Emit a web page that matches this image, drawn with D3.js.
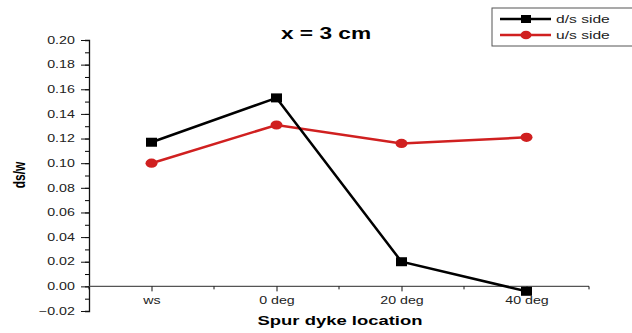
<!DOCTYPE html>
<html>
<head>
<meta charset="utf-8">
<script src="https://cdn.jsdelivr.net/npm/d3@7"></script>
<style>
  body { margin: 0; background: #fff; }
  svg { display: block; font-family: "Liberation Sans", Arial, sans-serif; }
</style>
</head>
<body>
<div class="chart"></div>
<script>
// data
const categories = ["ws", "0 deg", "20 deg", "40 deg"];
const dsSide = [0.117, 0.153, 0.020, -0.004];
const usSide = [0.100, 0.131, 0.116, 0.121];
const yTicks = [-0.02, 0, 0.02, 0.04, 0.06, 0.08, 0.10, 0.12, 0.14, 0.16, 0.18, 0.20];

const width = 632;
const height = 333;
const margin = { top: 40, bottom: 22, left: 89, right: 43 };
const sx = 1.42; // the original picture is stretched sideways

const svg = d3.select('.chart')
  .append('svg')
  .attr('width', width)
  .attr('height', height);

const x = d3.scalePoint()
  .domain(categories)
  .range([margin.left, width - margin.right])
  .padding(0.5);

const y = d3.scaleLinear()
  .domain([-0.02, 0.20])
  .range([height - margin.bottom, margin.top]);

// y axis with minor ticks
const yMinor = d3.range(-0.02, 0.2001, 0.01);
svg.append("g")
  .attr("transform", `translate(${margin.left},0)`)
  .call(d3.axisLeft(y).tickValues(yMinor).tickSize(4).tickFormat(""))
  .call(g => g.select(".domain").attr("stroke", "#111").attr("stroke-width", 1.3));

svg.append("g")
  .attr("transform", `translate(${margin.left},0)`)
  .call(d3.axisLeft(y).tickValues(yTicks).tickSize(8).tickPadding(2).tickFormat(d3.format(".2f")))
  .call(g => g.select(".domain").remove())
  .call(g => g.selectAll("line").attr("stroke", "#111"))
  .call(g => g.selectAll("text").attr("font-size", "10px").attr("fill", "#222")
    .attr("transform", `scale(${sx},1)`));

// x axis drawn at zero
const xStep = x.step();
const xMinor = d3.range(categories.length + 1).map(i => margin.left + i * xStep);
const xAxisG = svg.append("g")
  .attr("transform", `translate(0,${y(0)})`)
  .call(d3.axisBottom(x).tickSize(5).tickPadding(6))
  .call(g => g.select(".domain").attr("d", `M${margin.left},0H${width - margin.right}`)
    .attr("stroke", "#555").attr("stroke-width", 1.3))
  .call(g => g.selectAll("line").attr("stroke", "#111"))
  .call(g => g.selectAll("text").attr("font-size", "10px").attr("fill", "#222")
    .attr("transform", `scale(${sx},1)`));

xAxisG.selectAll(".minor")
  .data(xMinor)
  .join("line")
  .attr("class", "minor")
  .attr("x1", d => d).attr("x2", d => d)
  .attr("y1", 0).attr("y2", 3)
  .attr("stroke", "#111");

// lines
const line = d3.line()
  .x((d, i) => x(categories[i]))
  .y(d => y(d));

svg.append("path")
  .datum(usSide)
  .attr("fill", "none")
  .attr("stroke", "#d02020")
  .attr("stroke-width", 2.5)
  .attr("d", line);

svg.append("path")
  .datum(dsSide)
  .attr("fill", "none")
  .attr("stroke", "#000")
  .attr("stroke-width", 2.5)
  .attr("d", line);

svg.append("g")
  .selectAll("ellipse")
  .data(usSide)
  .join("ellipse")
  .attr("cx", (d, i) => x(categories[i]))
  .attr("cy", d => y(d))
  .attr("rx", 6)
  .attr("ry", 4.6)
  .attr("fill", "#d02020");

svg.append("g")
  .selectAll("rect")
  .data(dsSide)
  .join("rect")
  .attr("x", (d, i) => x(categories[i]) - 5.5)
  .attr("y", d => y(d) - 4.5)
  .attr("width", 11)
  .attr("height", 9)
  .attr("fill", "#000");

// title & axis labels
svg.append("text")
  .attr("transform", `translate(326,39) scale(${sx},1)`)
  .attr("text-anchor", "middle")
  .attr("font-size", "16px")
  .attr("font-weight", "bold")
  .text("x = 3 cm");

svg.append("text")
  .attr("transform", `translate(25,175) scale(${sx},1) rotate(-90)`)
  .attr("text-anchor", "middle")
  .attr("font-size", "12px")
  .attr("font-weight", "bold")
  .text("ds/w");

svg.append("text")
  .attr("transform", `translate(340,325) scale(${sx},1)`)
  .attr("text-anchor", "middle")
  .attr("font-size", "13px")
  .attr("font-weight", "bold")
  .text("Spur dyke location");

// legend
const legend = svg.append("g").attr("transform", "translate(492,8)");
legend.append("rect")
  .attr("width", 145).attr("height", 38)
  .attr("fill", "#fff").attr("stroke", "#555");

const legendItems = [
  { name: "d/s side", color: "#000", shape: "square" },
  { name: "u/s side", color: "#d02020", shape: "circle" }
];

const li = legend.selectAll(".item")
  .data(legendItems)
  .join("g")
  .attr("class", "item")
  .attr("transform", (d, i) => `translate(0,${11 + i * 16})`);

li.append("line")
  .attr("x1", 8).attr("x2", 59)
  .attr("stroke", d => d.color).attr("stroke-width", 2.5);

li.filter(d => d.shape === "square").append("rect")
  .attr("x", 29).attr("y", -4).attr("width", 10).attr("height", 8).attr("fill", "#000");
li.filter(d => d.shape === "circle").append("ellipse")
  .attr("cx", 34).attr("rx", 5.5).attr("ry", 4.3).attr("fill", "#d02020");

li.append("text")
  .attr("transform", `translate(64,4) scale(${sx},1)`)
  .attr("font-size", "11px")
  .attr("fill", "#222")
  .text(d => d.name);
</script>
</body>
</html>
